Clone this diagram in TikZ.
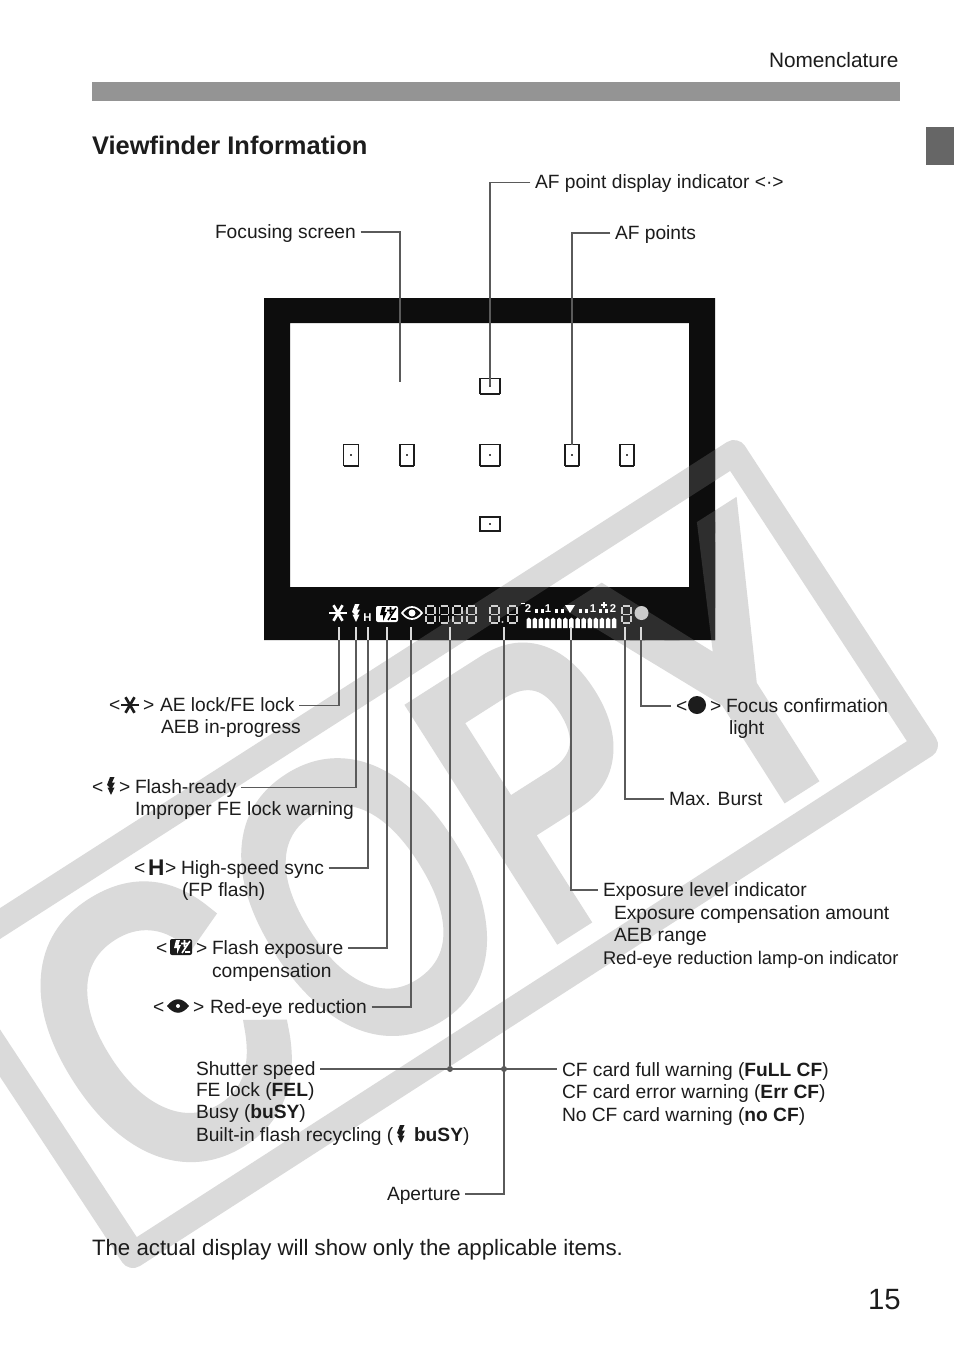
\documentclass[tikz,border=0pt]{standalone}
\usepackage{fontspec}
\setmainfont{Liberation Sans}
\newfontfamily\stampfont[FakeBold=5]{Liberation Sans}
\usetikzlibrary{positioning}
\definecolor{ink}{HTML}{1C1C1C}
\definecolor{leader}{HTML}{5A5A5A}
\definecolor{stamp}{HTML}{DADADA}
\tikzset{
  lbl/.style={anchor=base west, inner sep=0pt, outer sep=3.5pt, xshift=-3.5pt, text height=11.5pt, text depth=2.5pt, text=ink, font=\fontsize{14.4}{16}\selectfont},
  stampletter/.style={anchor=base west, inner sep=0pt, rotate=32.5, font=\stampfont\fontsize{289}{289}\selectfont},
  thinlead/.style={draw=leader, line width=0.8pt},
  boldlead/.style={draw=leader, line width=1.2pt},
  afdot/.style={fill=black!70, inner sep=0pt, minimum size=0.9pt},
  segdigit/.style={draw=black!18, line width=0.8pt},
  joint/.style={circle, fill=leader, inner sep=0pt, minimum size=4.5pt},
  pics/aestar/.style={code={
    \foreach \ang in {0,60,120} {\draw[#1, line width=2pt] (\ang:9) -- (\ang+180:9);}
  }},
  pics/flashbolt/.style={code={
    \fill[#1] (-1,-9) -- (3.5,-9) -- (1,-3.5) -- (4,-3.5) -- (1.2,1.5) -- (3.5,1.5) -- (0,9) -- (-3.5,1.5) -- (-1.2,1.5) -- (-4,-1) -- cycle;
  }},
  pics/fecbox/.style 2 args={code={
    \fill[#1, rounded corners=1.5pt] (-11,-8) rectangle (11,8);
    \fill[#2] (-5,-7) -- (-1,-7) -- (-2.5,-2) -- (0,-2) -- (-4,7) -- (-4,1) -- (-7,1) -- cycle;
    \draw[#2, line width=1.2pt] (0,-3.5) -- (7,-3.5) (3.5,-7) -- (3.5,0) (9,-6) -- (1,6) (4,5) -- (9,5);
  }},
  pics/eyeopen/.style={code={
    \draw[white, line width=1.3pt] (-10,0) .. controls (-4,-8) and (4,-8) .. (10,0) .. controls (4,8) and (-4,8) .. (-10,0) -- cycle;
    \fill[white] (0,0) circle (3.5);
  }},
  pics/eyesolid/.style={code={
    \fill[ink] (-11,0) .. controls (-4,-9) and (4,-9) .. (11,0) .. controls (4,9) and (-4,9) .. (-11,0) -- cycle;
    \fill[white] (0,0) circle (2);
  }},
  pics/eightseg/.style={code={
    \draw[segdigit] (1,0) -- (8,0) (9,1) -- (9,7.5) (9,9.5) -- (9,16) (1,17) -- (8,17) (0,1) -- (0,7.5) (0,9.5) -- (0,16) (1,8.5) -- (8,8.5);
  }},
  pics/copystamp/.style={code={
    \draw[#1, line width=19.5pt, line join=round] (734,453) -- (925,745) -- (133,1255) -- (-60,962) -- cycle;
    \node[stampletter, xscale=0.8, text=#1] (stampc) at (138,1198) {C};
    \node[stampletter, xscale=0.75, text=#1] (stampo) at (341,1069.5) {O};
    \node[stampletter, xscale=0.75, text=#1] (stampp) at (538,945.5) {P};
    \node[stampletter, xscale=0.75, text=#1] (stampy) at (715.5,836) {Y};
  }},
}
\begin{document}
\begin{tikzpicture}[x=0.75pt,y=-0.75pt]
\useasboundingbox (0,0) rectangle (954,1345);
\fill[white] (0,0) rectangle (954,1345);
% stamp behind everything
\begin{scope}
\clip (0,0) rectangle (954,1345);
\pic at (0,0) {copystamp=stamp};
\end{scope}
% header
\fill[black!42] (92,82) rectangle (900,101);
\fill[black!60] (926,127) rectangle (954,165);
\node[lbl, font=\fontsize{15.6}{18}\selectfont] (section) at (769,68) {Nomenclature};
\node[lbl, font=\bfseries\fontsize{19.1}{22}\selectfont] (title) at (92,154) {Viewfinder Information};
% viewfinder
\fill[black!95, even odd rule] (264,298) rectangle (715,640) (290,323) rectangle (689,587);
\begin{scope}[even odd rule]
\clip (264,298) rectangle (715,640) (290,323) rectangle (689,587);
\pic at (0,0) {copystamp=black!82};
\end{scope}
\foreach \nm/\cx/\cy/\bw/\bh in {aftop/490/386/20/15, afmid/490/455/20/21, afbot/490/524/20/14, afl/351/455/15/21, afk/407/455/14/21, afj/572/455/14/21, afr/627/455/14/21} {
  \draw[draw=ink, line width=0.9pt] (\cx-\bw/2,\cy-\bh/2) rectangle (\cx+\bw/2,\cy+\bh/2);
  \fill[ink] (\cx-\bw/2,\cy+\bh/2-1) rectangle (\cx+\bw/2,\cy+\bh/2+1);
  \node[afdot] (\nm) at (\cx,\cy) {};
}
% display row
\pic at (338,613) {aestar=white};
\pic at (356,613) {flashbolt=white};
\node[inner sep=0pt, text=white, font=\bfseries\fontsize{8.5}{9}\selectfont] (hmark) at (367.5,618) {H};
\pic at (387,614) {fecbox={white}{black}};
\pic at (412,613) {eyeopen};
\foreach \dx in {426,439.5,453,467,490,508,622} {\pic at (\dx,606) {eightseg};}
\fill[black!25] (502.5,622) circle (1.2);
\fill[black!20] (641.5,613) circle (7);
\foreach \num/\dx in {2/528,1/548,1/593,2/613} {
  \node[inner sep=0pt, text=white, font=\bfseries\fontsize{8.5}{9}\selectfont] at (\dx,609) {\num};
}
\fill[white] (565,605) -- (575,605) -- (570,613) -- cycle;
\fill[white] (521,603) rectangle (525,604);
\draw[white, line width=0.8pt] (601,605) -- (607,605) (604,602) -- (604,608);
\foreach \dx in {535,541,555,561,579,585,599,605} {\fill[white] (\dx,609) rectangle (\dx+3,613);}
\foreach \i in {0,...,14} {\fill[white] (526.5+\i*6.1,628) -- (526.5+\i*6.1,619.5) -- (528.7+\i*6.1,617.5) -- (531+\i*6.1,619.5) -- (531+\i*6.1,628) -- cycle;}
% labels, upper
\node[lbl] (focusing) at (215,238) {Focusing screen};
\node[lbl] (afdisp) at (535,188.5) {AF point display indicator <·>};
\node[lbl] (afpts) at (615,239) {AF points};
% labels, left column
\node[lbl] (aeopen) at (109,711) {<};
\pic at (130,705) {aestar=ink};
\node[lbl] (aeclose) at (143,711) {>};
\node[lbl] (aelock) at (160,711.5) {AE lock/FE lock};
\node[lbl] (aebprog) at (161,733) {AEB in-progress};
\node[lbl] (flopen) at (92,793) {<};
\pic at (111,786) {flashbolt=ink};
\node[lbl] (flclose) at (119,793) {>};
\node[lbl] (flready) at (135,793.5) {Flash-ready};
\node[lbl] (flwarn) at (135,815) {Improper FE lock warning};
\node[lbl] (hsopen) at (134,874) {<};
\node[lbl, font=\bfseries\fontsize{17}{18}\selectfont] (hsmark) at (148,875) {H};
\node[lbl] (hsclose) at (165,874) {>};
\node[lbl] (hssync) at (181,874) {High-speed sync};
\node[lbl] (hsfp) at (182,896) {(FP flash)};
\node[lbl] (fecopen) at (156,954) {<};
\pic at (181,947) {fecbox={ink}{white}};
\node[lbl] (fecclose) at (196,954) {>};
\node[lbl] (fecone) at (212,954) {Flash exposure};
\node[lbl] (fectwo) at (212,977) {compensation};
\node[lbl] (eyeopenlt) at (153,1013) {<};
\pic at (178,1006) {eyesolid};
\node[lbl] (eyeclose) at (193,1013) {>};
\node[lbl] (redeye) at (210,1013) {Red-eye reduction};
\node[lbl] (shutter) at (196,1075) {Shutter speed};
\node[lbl] (felock) at (196,1096) {FE lock (\textbf{FEL})};
\node[lbl] (busy) at (196,1118) {Busy (\textbf{buSY})};
\node[lbl] (builtin) at (196,1141) {Built-in flash recycling (};
\pic at (401,1134) {flashbolt=ink};
\node[lbl] (builtbusy) at (414,1141) {\textbf{buSY})};
\node[lbl] (aperture) at (387,1200) {Aperture};
% labels, right column
\node[lbl] (focopen) at (676,712) {<};
\fill[ink] (697,705) circle (9);
\node[lbl] (focclose) at (710,712) {>};
\node[lbl] (focus) at (726,712) {Focus confirmation};
\node[lbl] (focuslight) at (729,734) {light};
\node[lbl] (burst) at (669,805) {Max. Burst};
\node[lbl] (explevel) at (603,896) {Exposure level indicator};
\node[lbl] (expcomp) at (614,919) {Exposure compensation amount};
\node[lbl] (aebrange) at (614,941) {AEB range};
\node[lbl, font=\fontsize{13.75}{16}\selectfont] (redlamp) at (603,964) {Red-eye reduction lamp-on indicator};
\node[lbl] (cffull) at (562,1076) {CF card full warning (\textbf{FuLL CF})};
\node[lbl] (cferr) at (562,1098) {CF card error warning (\textbf{Err CF})};
\node[lbl] (cfnone) at (562,1121) {No CF card warning (\textbf{no CF})};
% footer
\node[lbl, font=\fontsize{16.7}{18}\selectfont] (note) at (92,1255) {The actual display will show only the applicable items.};
\node[lbl, font=\fontsize{22}{24}\selectfont] (pageno) at (868,1309) {15};
% leader ends
\coordinate (focusend) at (400,382);
\coordinate (dispend) at (490,385);
\coordinate (ptsend) at (572,445);
\coordinate (aeseg) at (339,627);
\coordinate (flseg) at (356,627);
\coordinate (hsseg) at (368,627);
\coordinate (fecseg) at (387,627);
\coordinate (eyeseg) at (411,627);
\coordinate (shutseg) at (450,627);
\coordinate (apseg) at (504,627);
\coordinate (expseg) at (571,627);
\coordinate (burstseg) at (625,627);
\coordinate (focseg) at (641,627);
\draw[thinlead] (focusing.east) -| (focusend);
\draw[boldlead] (afdisp.west) -| (dispend);
\draw[thinlead] (afpts.west) -| (ptsend);
\draw[boldlead] (aelock.east) -| (aeseg);
\draw[thinlead] (flready.east) -| (flseg);
\draw[boldlead] (hssync.east) -| (hsseg);
\draw[thinlead] (fecone.east) -| (fecseg);
\draw[thinlead] (redeye.east) -| (eyeseg);
\draw[thinlead] (shutter.east) -- (shutter.east -| cffull.west);
\node[joint] (shutdot) at (shutseg |- shutter.east) {};
\node[joint] (apdot) at (apseg |- shutter.east) {};
\draw[thinlead] (shutseg) -- (shutdot);
\draw[boldlead] (apseg) |- (aperture.east);
\draw[thinlead] (expseg) |- (explevel.west);
\draw[boldlead] (burstseg) |- (burst.west);
\draw[thinlead] (focseg) |- (focopen.west);
% leaders turn white where they cross the black frame
\foreach \sx in {339,356,368,387,411,450,504,571,625,641} {\draw[black!15, line width=0.8pt] (\sx,627) -- (\sx,640);}
\end{tikzpicture}
\end{document}
